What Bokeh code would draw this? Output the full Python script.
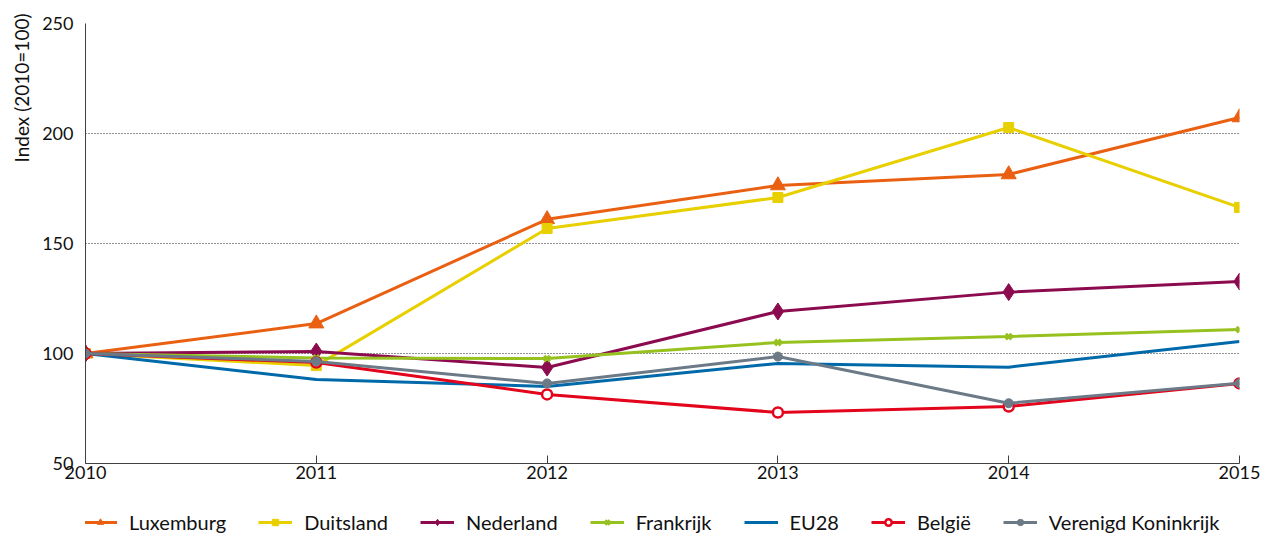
from bokeh.plotting import figure
from bokeh.models import Legend, LegendItem, FixedTicker, Range1d, Title
from bokeh.layouts import column
from bokeh.embed import file_html
from bokeh.resources import INLINE

years = [2010, 2011, 2012, 2013, 2014, 2015]
luxemburg = [100, 113.6, 161.0, 176.4, 181.4, 207.3]
duitsland = [100, 94.5, 156.8, 170.9, 202.7, 166.4]
nederland = [100, 100.9, 93.6, 119.1, 127.9, 132.7]
frankrijk = [100, 98.0, 97.7, 105.0, 107.7, 110.9]
eu28 = [100, 88.2, 85.0, 95.5, 93.8, 105.5]
belgie = [100, 95.9, 81.4, 73.2, 75.9, 86.4]
vk = [100, 96.4, 86.4, 98.6, 77.4, 86.5]

names = ["Luxemburg", "Duitsland", "Nederland", "Frankrijk", "EU28", "België", "Verenigd Koninkrijk"]
series = [luxemburg, duitsland, nederland, frankrijk, eu28, belgie, vk]
colors = ["#EA6012", "#E8D000", "#8C0B4F", "#96C11F", "#0069A9", "#E3051B", "#6C7A88"]
markers = ["triangle", "square", "diamond", "x", None, "circle", "circle"]
msizes = [15, 10, 17, 8, 0, 10, 9]
mfills = [None, None, None, None, None, "white", None]
mlws = [1, 1, 1, 3, 1, 2.5, 1]

FONT = "Lato"

p = figure(width=1261, height=495, output_backend="svg", toolbar_location=None,
           x_range=Range1d(2010, 2015), y_range=Range1d(50, 250),
           min_border_left=85, min_border_right=22, min_border_top=23, min_border_bottom=32)
p.outline_line_color = None
p.background_fill_color = "white"

p.xaxis.ticker = FixedTicker(ticks=years)
p.yaxis.ticker = FixedTicker(ticks=[50, 100, 150, 200, 250])
for ax in (p.xaxis[0], p.yaxis[0]):
    ax.axis_line_color = "#404040"
    ax.axis_line_width = 1
    ax.major_label_text_font = FONT
    ax.major_label_text_font_size = "18px"
    ax.major_label_text_color = "#111111"
    ax.minor_tick_line_color = None
p.xaxis.major_tick_in = 8
p.xaxis.major_tick_out = 0
p.xaxis.major_tick_line_color = "#404040"
p.xaxis.major_label_standoff = 2
p.yaxis.major_tick_line_color = None
p.yaxis.major_label_standoff = 6

ylab = Title(text="Index (2010=100)", align="right", text_font=FONT, text_font_size="19px",
             text_font_style="normal", text_color="#111111", offset=-10, standoff=14)
p.add_layout(ylab, "left")

p.xgrid.grid_line_color = None
p.ygrid.grid_line_color = "#222222"
p.ygrid.grid_line_dash = "1 2"
p.ygrid.grid_line_width = 1
p.ygrid.ticker = FixedTicker(ticks=[100, 150, 200, 250])

for name, vals, c, m, s, f, lw in zip(names, series, colors, markers, msizes, mfills, mlws):
    p.line(years, vals, line_color=c, line_width=3)
    if m:
        p.scatter(years, vals, marker=m, size=s, line_color=c,
                  fill_color=f if f else c, line_width=lw)

# legend strip below the chart (its renderers sit outside the visible range)
lg = figure(width=1261, height=39, output_backend="svg", toolbar_location=None,
            x_range=Range1d(0, 1), y_range=Range1d(0, 1),
            x_axis_type=None, y_axis_type=None,
            min_border_left=0, min_border_right=0, min_border_top=0, min_border_bottom=0)
lg.outline_line_color = None
lg.xgrid.grid_line_color = None
lg.ygrid.grid_line_color = None
items = []
hx, hy = [-5, -4], [-5, -4]
lsizes = [12, 10, 14, 8, 0, 10, 9]
for name, c, m, s, f, lw in zip(names, colors, markers, lsizes, mfills, mlws):
    rs = [lg.line(hx, hy, line_color=c, line_width=3)]
    if m:
        rs.append(lg.scatter(hx, hy, marker=m, size=s, line_color=c,
                             fill_color=f if f else c, line_width=lw))
    items.append(LegendItem(label=name, renderers=rs))

legend = Legend(items=items, orientation="horizontal", location=(-2, 0),
                label_text_font=FONT, label_text_font_size="20px", label_text_color="#111111",
                glyph_width=34, glyph_height=16, label_standoff=12, spacing=32,
                border_line_color=None, background_fill_alpha=0, padding=0, margin=0)
lg.add_layout(legend, "center")

open("out.html", "w").write(file_html(column(p, lg, spacing=0), INLINE))
